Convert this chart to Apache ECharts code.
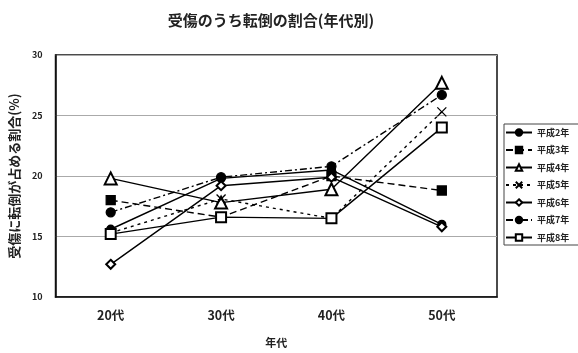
<!DOCTYPE html>
<html>
<head>
<meta charset="utf-8">
<script src="https://cdn.jsdelivr.net/npm/echarts@6/dist/echarts.min.js"></script>
<style>
  html, body { margin: 0; padding: 0; background: #fff; }
  #chart { width: 578px; height: 353px; }
</style>
</head>
<body>
<div id="chart"></div>
<script>
// 年代
const categories = ['20代', '30代', '40代', '50代']
const yTicks = [10, 15, 20, 25, 30]

// 各年の割合 (%)
const h2 = [15.6, 19.8, 20.5, 16.0]
const h3 = [18.0, 16.6, 20.0, 18.8]
const h4 = [19.8, 17.8, 18.9, 27.7]
const h5 = [15.3, 18.1, 16.5, 25.3]
const h6 = [12.7, 19.2, 19.9, 15.8]
const h7 = [17.0, 19.9, 20.8, 26.7]
const h8 = [15.2, 16.6, 16.5, 24.0]

const font = '"Noto Sans CJK JP", "Noto Sans", sans-serif'
const crossPath = 'path://M0,0L10,10M10,0L0,10'

function makeSeries (name, data, symbol, size, dash) {
  return {
    name: name,
    type: 'line',
    data: data,
    symbol: symbol,
    symbolSize: size,
    showSymbol: true,
    itemStyle: {
      color: '#000',
      borderColor: '#000',
      borderWidth: 1.3
    },
    lineStyle: {
      color: '#000',
      width: 1.4,
      type: dash
    },
    emphasis: { disabled: true }
  }
}

const chart = echarts.init(document.getElementById('chart'))
chart.setOption({
  animation: false,
  textStyle: { fontFamily: font },
  title: {
    text: '受傷のうち転倒の割合(年代別)',
    left: 266,
    textAlign: 'center',
    top: 8,
    textStyle: { fontSize: 15, fontWeight: 'bold', color: '#222', fontFamily: font }
  },
  grid: {
    left: 52,
    right: 81,
    top: 55,
    bottom: 49,
    show: true,
    borderColor: '#111',
    borderWidth: 1.5
  },
  legend: {
    orient: 'vertical',
    left: 504,
    top: 124,
    itemWidth: 26,
    itemHeight: 8,
    itemGap: 8.5,
    padding: [4, 30, 3, 1],
    borderColor: '#444',
    borderWidth: 1,
    textStyle: { fontSize: 9, fontWeight: 'bold', color: '#222', fontFamily: font },
    data: ['平成2年', '平成3年', '平成4年', '平成5年', '平成6年', '平成7年', '平成8年']
  },
  xAxis: {
    type: 'category',
    data: categories,
    boundaryGap: true,
    name: '年代',
    nameLocation: 'middle',
    nameGap: 40,
    nameTextStyle: { fontSize: 11, fontWeight: 'bold', color: '#222' },
    axisLine: { lineStyle: { color: '#111', width: 1.5 } },
    axisTick: { show: false },
    axisLabel: { fontSize: 12.5, fontWeight: 'bold', color: '#222', margin: 12 }
  },
  yAxis: {
    type: 'value',
    min: yTicks[0],
    max: yTicks[yTicks.length - 1],
    interval: 5,
    name: '受傷に転倒が占める割合(%)',
    nameLocation: 'middle',
    nameGap: 30,
    nameTextStyle: { fontSize: 13, fontWeight: 'bold', color: '#222' },
    axisLine: { show: true, lineStyle: { color: '#111', width: 1.5 } },
    axisTick: { show: false },
    axisLabel: { fontSize: 9, fontWeight: 'bold', color: '#222', margin: 13 },
    splitLine: { lineStyle: { color: '#aaa', width: 1 } }
  },
  series: [
    makeSeries('平成2年', h2, 'circle', 8, 'solid'),
    makeSeries('平成3年', h3, 'rect', 9, [7, 4]),
    makeSeries('平成4年', h4, 'emptyTriangle', 12, 'solid'),
    makeSeries('平成5年', h5, crossPath, 9, [3, 4]),
    makeSeries('平成6年', h6, 'emptyDiamond', 9, 'solid'),
    makeSeries('平成7年', h7, 'circle', 9, [7, 3, 2, 3]),
    makeSeries('平成8年', h8, 'emptyRect', 10, 'solid')
  ]
})
</script>
</body>
</html>
